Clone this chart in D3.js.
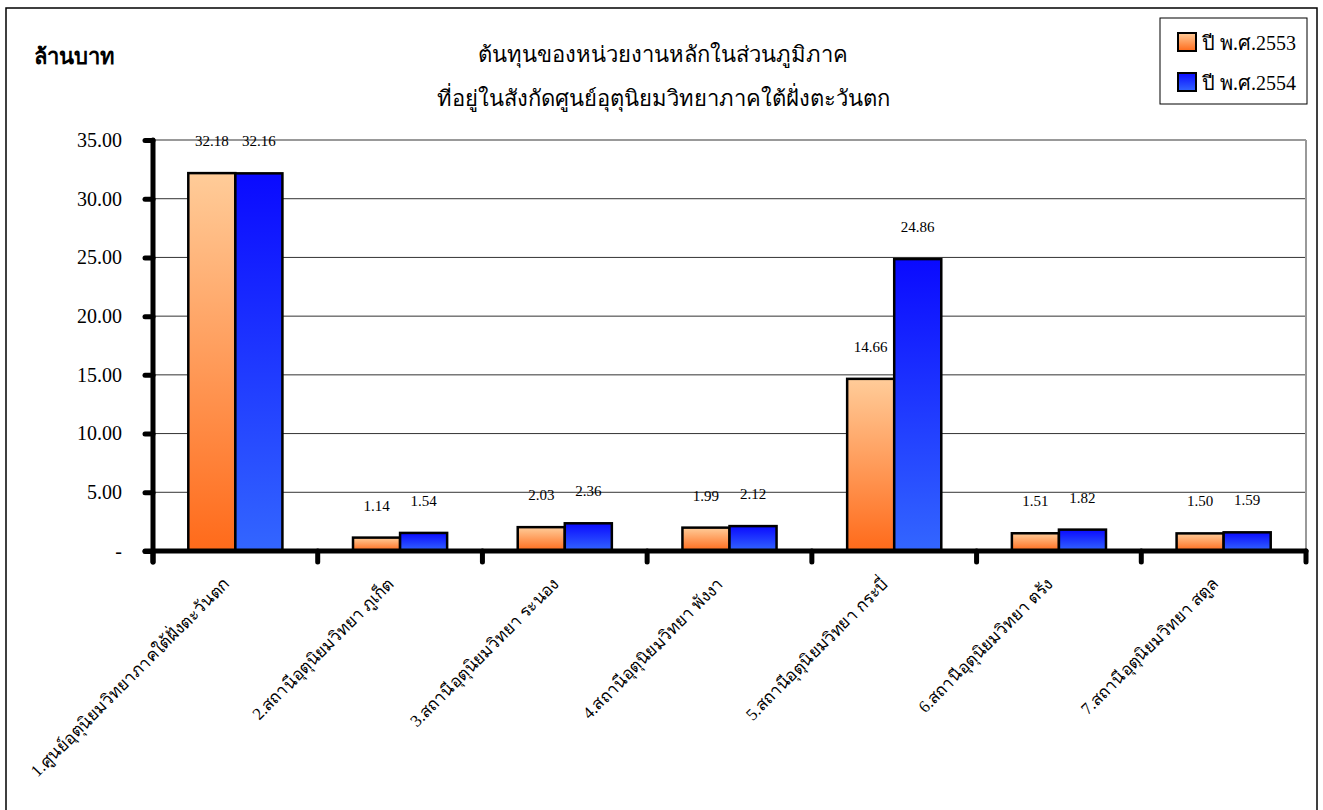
<!DOCTYPE html>
<html lang="th">
<head>
<meta charset="utf-8">
<title>ต้นทุนของหน่วยงานหลัก</title>
<script src="https://cdn.jsdelivr.net/npm/d3@7"></script>
<style>
  body { margin: 0; background: #fff; }
  text { font-family: "Liberation Serif", "Times New Roman", serif; fill: #000; }
</style>
</head>
<body>
<script>
// data
var categories = [
  "1.ศูนย์อุตุนิยมวิทยาภาคใต้ฝั่งตะวันตก",
  "2.สถานีอุตุนิยมวิทยา ภูเก็ต",
  "3.สถานีอุตุนิยมวิทยา  ระนอง",
  "4.สถานีอุตุนิยมวิทยา พังงา",
  "5.สถานีอุตุนิยมวิทยา กระบี่",
  "6.สถานีอุตุนิยมวิทยา ตรัง",
  "7.สถานีอุตุนิยมวิทยา สตูล"
];
var seriesNames = ["ปี พ.ศ.2553", "ปี พ.ศ.2554"];
var values2553 = [32.18, 1.14, 2.03, 1.99, 14.66, 1.51, 1.50];
var values2554 = [32.16, 1.54, 2.36, 2.12, 24.86, 1.82, 1.59];
var yTicks = [0, 5, 10, 15, 20, 25, 30, 35];

var W = 1323, H = 810;
var plotLeft = 153, plotRight = 1306, plotTop = 140, plotBottom = 551;

var svg = d3.select("body").append("svg")
  .attr("width", W).attr("height", H);

// gradients
var defs = svg.append("defs");
var g1 = defs.append("linearGradient").attr("id", "gOrange")
  .attr("x1", 0).attr("y1", 0).attr("x2", 0).attr("y2", 1);
g1.append("stop").attr("offset", "0%").attr("stop-color", "#ffcc99");
g1.append("stop").attr("offset", "100%").attr("stop-color", "#ff6a1a");
var g2 = defs.append("linearGradient").attr("id", "gBlue")
  .attr("x1", 0).attr("y1", 0).attr("x2", 0).attr("y2", 1);
g2.append("stop").attr("offset", "0%").attr("stop-color", "#0a0aff");
g2.append("stop").attr("offset", "100%").attr("stop-color", "#3366ff");
var fills = ["url(#gOrange)", "url(#gBlue)"];

// outer frame
svg.append("rect").attr("x", 6).attr("y", 8).attr("width", 1311).attr("height", 810)
  .attr("fill", "none").attr("stroke", "#000").attr("stroke-width", 1.5);

var x = d3.scaleBand().domain(d3.range(categories.length)).range([plotLeft, plotRight]);
var inner = d3.scaleBand().domain([0, 1]).range([0, x.bandwidth()]).paddingOuter(0.75).paddingInner(0);
var y = d3.scaleLinear().domain([0, 35]).range([plotBottom, plotTop]);

// gridlines
svg.append("g").selectAll("line").data(yTicks.slice(1)).enter().append("line")
  .attr("x1", plotLeft).attr("x2", plotRight)
  .attr("y1", function(d) { return y(d); }).attr("y2", function(d) { return y(d); })
  .attr("stroke", function(d) { return d === 35 ? "#999" : "#333"; })
  .attr("stroke-width", function(d) { return d === 35 ? 2 : 1; });

// plot right border
svg.append("line").attr("x1", plotRight).attr("x2", plotRight).attr("y1", plotTop).attr("y2", plotBottom)
  .attr("stroke", "#999").attr("stroke-width", 2);

// bars
var series = [values2553, values2554];
series.forEach(function(vals, s) {
  svg.append("g").selectAll("rect").data(vals).enter().append("rect")
    .attr("x", function(d, i) { return x(i) + inner(s); })
    .attr("y", function(d) { return y(d); })
    .attr("width", inner.bandwidth())
    .attr("height", function(d) { return y(0) - y(d); })
    .attr("fill", fills[s])
    .attr("stroke", "#000").attr("stroke-width", 2.5);

  svg.append("g").selectAll("text").data(vals).enter().append("text")
    .attr("x", function(d, i) { return x(i) + inner(s) + inner.bandwidth() / 2; })
    .attr("y", function(d) { return y(d) - 27; })
    .attr("text-anchor", "middle")
    .attr("font-size", "15px")
    .text(function(d) { return d.toFixed(2); });
});

// y axis
var yAxis = d3.axisLeft(y).tickValues(yTicks).tickSize(8)
  .tickFormat(function(d) { return d === 0 ? "-" : d3.format(".2f")(d); });
var ya = svg.append("g").attr("transform", "translate(" + plotLeft + ",0)").call(yAxis);
ya.select(".domain").remove();
ya.selectAll(".tick line").attr("stroke", "#000").attr("stroke-width", 5).attr("stroke-linecap", "round");
ya.selectAll(".tick text").attr("x", -31).attr("font-size", "20px")
  .attr("font-family", "Liberation Serif, serif").attr("fill", "#000");
svg.append("line").attr("x1", plotLeft).attr("x2", plotLeft).attr("y1", plotTop).attr("y2", plotBottom + 11)
  .attr("stroke", "#000").attr("stroke-width", 5).attr("stroke-linecap", "round");

// x axis
svg.append("line").attr("x1", plotLeft - 8).attr("x2", plotRight).attr("y1", plotBottom).attr("y2", plotBottom)
  .attr("stroke", "#000").attr("stroke-width", 5).attr("stroke-linecap", "round");
var xTickPos = d3.range(categories.length + 1).map(function(i) { return plotLeft + i * x.step(); });
svg.append("g").selectAll("line").data(xTickPos).enter().append("line")
  .attr("x1", function(d) { return d; }).attr("x2", function(d) { return d; })
  .attr("y1", plotBottom).attr("y2", plotBottom + 11)
  .attr("stroke", "#000").attr("stroke-width", 5).attr("stroke-linecap", "round");

// category labels
svg.append("g").selectAll("text").data(categories).enter().append("text")
  .attr("transform", function(d, i) {
    return "translate(" + (x(i) + x.bandwidth() / 2 - 5) + "," + (plotBottom + 34) + ") rotate(-45)";
  })
  .attr("text-anchor", "end")
  .attr("font-size", "17px")
  .text(function(d) { return d; });

// title
svg.append("text").attr("x", 663).attr("y", 62).attr("text-anchor", "middle")
  .attr("font-size", "22px").text("ต้นทุนของหน่วยงานหลักในส่วนภูมิภาค");
svg.append("text").attr("x", 663).attr("y", 106).attr("text-anchor", "middle")
  .attr("font-size", "22px").text("ที่อยู่ในสังกัดศูนย์อุตุนิยมวิทยาภาคใต้ฝั่งตะวันตก");
svg.append("text").attr("x", 34).attr("y", 64).attr("font-size", "22px")
  .attr("font-weight", "bold").text("ล้านบาท");

// legend
var lg = svg.append("g");
lg.append("rect").attr("x", 1160).attr("y", 18).attr("width", 147).attr("height", 86)
  .attr("fill", "#fff").attr("stroke", "#000").attr("stroke-width", 1);
seriesNames.forEach(function(n, i) {
  var yy = 33 + i * 40;
  lg.append("rect").attr("x", 1178).attr("y", yy).attr("width", 18).attr("height", 18)
    .attr("fill", fills[i]).attr("stroke", "#000").attr("stroke-width", 2);
  lg.append("text").attr("x", 1202).attr("y", yy + 17).attr("font-size", "20px").text(n);
});
</script>
</body>
</html>
